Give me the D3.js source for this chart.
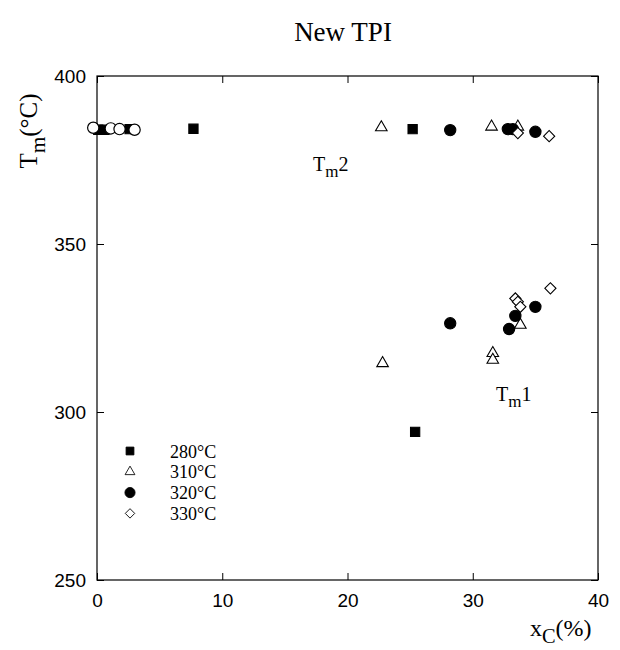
<!DOCTYPE html>
<html lang="en">
<head>
  <meta charset="UTF-8">
  <title>New TPI</title>
  <style>
    body { margin: 0; background: #fff; }
    svg { display: block; }
    .tick-label { font-family: "Liberation Sans", Arial, sans-serif; font-size: 19px; fill: #000; }
    .serif { font-family: "Liberation Serif", "Times New Roman", serif; fill: #000; }
  </style>
  <script src="https://d3js.org/d3.v7.min.js"></script>
</head>
<body>
  <div id="chart"></div>
  <script>
    // -----------------------------
    // Data
    // -----------------------------
    const xTicks = [0, 10, 20, 30, 40];
    const yTicks = [250, 300, 350, 400];

    const seriesNames = ["280°C", "310°C", "320°C", "330°C"];
    const seriesShapes = ["square", "triangle", "circle", "diamond"];
    const seriesFilled = [true, false, true, false];

    // [x_c (%), T_m (°C)]
    const s280 = [[0.1, 384.0], [0.6, 384.0], [2.6, 384.2], [7.7, 384.3], [25.2, 384.2], [25.4, 294.1]];
    const s310 = [[22.7, 384.7], [31.5, 384.9], [33.6, 384.9], [22.8, 314.5], [31.6, 317.5], [31.6, 315.5], [33.8, 325.9]];
    const s320 = [[28.2, 383.9], [32.8, 384.2], [33.2, 384.2], [35.0, 383.4], [28.2, 326.4], [32.9, 324.7], [33.4, 328.6], [35.0, 331.3]];
    const s330 = [[33.6, 383.0], [36.1, 382.1], [33.4, 333.8], [33.6, 332.8], [33.8, 331.3], [36.2, 336.8]];
    // unlabelled open circles near x_c = 0
    const sOpen = [[-0.3, 384.6], [1.1, 384.4], [1.8, 384.2], [3.0, 384.0]];

    const allSeries = [s280, s310, s320, s330];

    // -----------------------------
    // Layout
    // -----------------------------
    const width = 620, height = 650;
    const margin = {top: 76, right: 22, bottom: 70, left: 97};
    const innerW = width - margin.left - margin.right;
    const innerH = height - margin.top - margin.bottom;

    const svg = d3.select("#chart").append("svg")
      .attr("width", width)
      .attr("height", height);

    const g = svg.append("g")
      .attr("transform", `translate(${margin.left},${margin.top})`);

    const x = d3.scaleLinear().domain([0, 40]).range([0, innerW]);
    const y = d3.scaleLinear().domain([250, 400]).range([innerH, 0]);

    // frame
    g.append("rect")
      .attr("width", innerW).attr("height", innerH)
      .attr("fill", "none").attr("stroke", "#000").attr("stroke-width", 1.2);

    // axes with inward ticks
    const tickLen = 7;
    g.append("g").attr("transform", `translate(0,${innerH})`)
      .call(d3.axisBottom(x).tickValues(xTicks).tickSize(-tickLen).tickPadding(14).tickFormat(d3.format("d")))
      .call(a => a.select(".domain").remove())
      .call(a => a.selectAll("text").attr("class", "tick-label"));
    g.append("g")
      .call(d3.axisTop(x).tickValues(xTicks).tickSize(-tickLen).tickFormat(""))
      .call(a => a.select(".domain").remove());
    g.append("g")
      .call(d3.axisLeft(y).tickValues(yTicks).tickSize(-tickLen).tickPadding(11).tickFormat(d3.format("d")))
      .call(a => a.select(".domain").remove())
      .call(a => a.selectAll("text").attr("class", "tick-label"));
    g.append("g").attr("transform", `translate(${innerW},0)`)
      .call(d3.axisRight(y).tickValues(yTicks).tickSize(-tickLen).tickFormat(""))
      .call(a => a.select(".domain").remove());
    g.selectAll(".tick line").attr("stroke", "#000");

    // -----------------------------
    // Markers
    // -----------------------------
    function shapePath(shape) {
      if (shape === "square") return d3.symbol(d3.symbolSquare, 85)();
      if (shape === "triangle") return d3.symbol(d3.symbolTriangle, 58)();
      if (shape === "circle") return d3.symbol(d3.symbolCircle, 100)();
      return d3.symbol(d3.symbolSquare, 62)();
    }
    function shapeRotate(shape) {
      return shape === "diamond" ? " rotate(45)" : "";
    }

    allSeries.forEach((data, i) => {
      const shape = seriesShapes[i];
      g.append("g").selectAll("path")
        .data(data)
        .join("path")
        .attr("d", shapePath(shape))
        .attr("transform", d => `translate(${x(d[0])},${y(d[1])})` + shapeRotate(shape))
        .attr("fill", seriesFilled[i] ? "#000" : "#fff")
        .attr("stroke", "#000")
        .attr("stroke-width", 1.1);
    });

    g.append("g").selectAll("path")
      .data(sOpen)
      .join("path")
      .attr("d", shapePath("circle"))
      .attr("transform", d => `translate(${x(d[0])},${y(d[1])})`)
      .attr("fill", "#fff")
      .attr("stroke", "#000")
      .attr("stroke-width", 1.2);

    // -----------------------------
    // Legend
    // -----------------------------
    const legend = g.append("g").attr("transform", "translate(33,375)");
    seriesNames.forEach((name, i) => {
      const row = legend.append("g").attr("transform", `translate(0,${i * 20.8})`);
      const shape = seriesShapes[i];
      const scale = shape === "circle" ? 0.9 : 0.85;
      row.append("path")
        .attr("d", shapePath(shape))
        .attr("transform", `scale(${scale})` + shapeRotate(shape))
        .attr("fill", seriesFilled[i] ? "#000" : "#fff")
        .attr("stroke", "#000")
        .attr("stroke-width", 1);
      row.append("text")
        .attr("class", "serif")
        .attr("x", 40).attr("y", 6.5)
        .attr("font-size", 18)
        .text(name);
    });

    // -----------------------------
    // Text labels
    // -----------------------------
    svg.append("text").attr("class", "serif")
      .attr("x", 343).attr("y", 41)
      .attr("text-anchor", "middle").attr("font-size", 27)
      .text("New TPI");

    function subLabel(parent, base, sub, tail, size) {
      const t = parent.append("text").attr("class", "serif").attr("font-size", size);
      t.append("tspan").text(base);
      t.append("tspan").attr("dy", size * 0.3).attr("font-size", size * 0.85).text(sub);
      t.append("tspan").attr("dy", -size * 0.3).text(tail);
      return t;
    }

    subLabel(svg, "T", "m", "2", 20).attr("x", 313).attr("y", 171);
    subLabel(svg, "T", "m", "1", 20).attr("x", 496).attr("y", 401);

    subLabel(svg, "T", "m", "(°C)", 25)
      .attr("text-anchor", "middle")
      .attr("transform", "translate(37,131) rotate(-90)");

    subLabel(svg, "x", "C", "(%)", 24)
      .attr("x", 530).attr("y", 636);
  </script>
</body>
</html>
